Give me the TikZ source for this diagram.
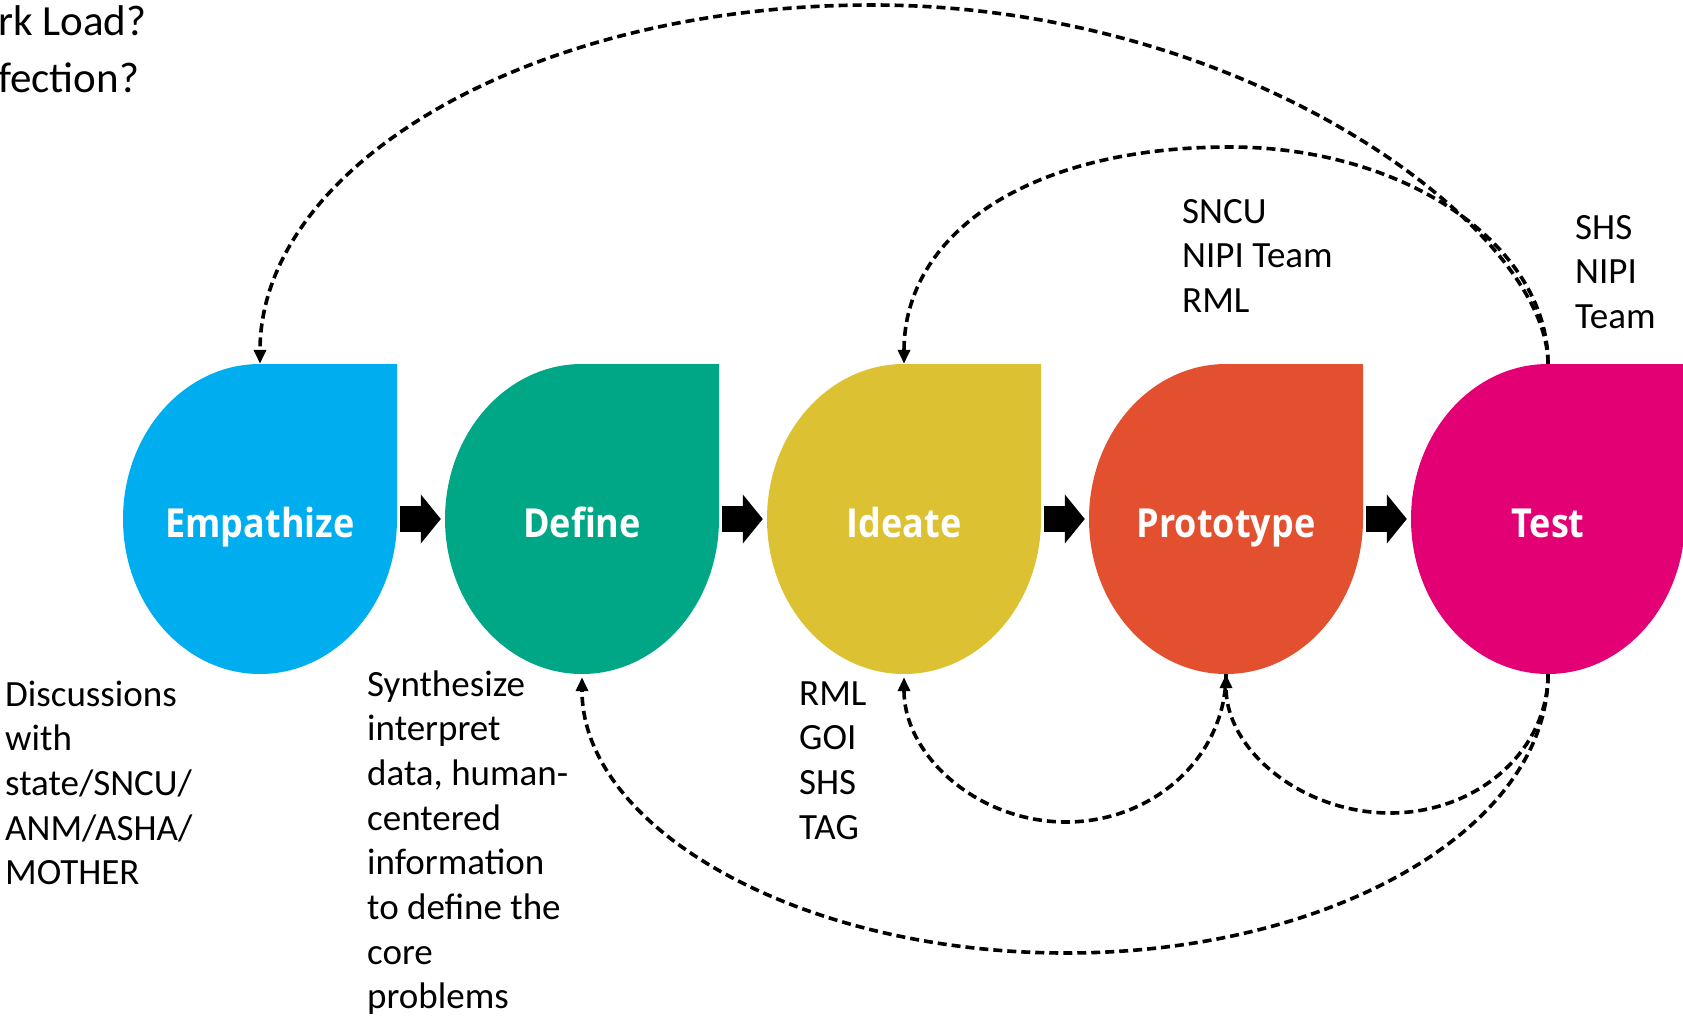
\documentclass[tikz,border=0pt]{standalone}
\usepackage{fontspec}
\setmainfont{Carlito}
\newfontfamily\stagefont{Open Sans}
\usetikzlibrary{arrows.meta}
\definecolor{cEmp}{RGB}{0,174,239}
\definecolor{cDef}{RGB}{0,167,135}
\definecolor{cIde}{RGB}{220,194,50}
\definecolor{cPro}{RGB}{227,80,47}
\definecolor{cTes}{RGB}{226,0,116}
\newcommand\blk[1]{\begin{tabular}[t]{@{}l@{}}#1\end{tabular}}
\newcommand\stg[1]{\scalebox{0.9}[1]{#1}}
\begin{document}
\begin{tikzpicture}[x=1pt,y=-1pt,
  stage/.style={minimum width=274pt, minimum height=310pt, inner sep=0pt,
    text height=36pt, text depth=0pt, text=white,
    font=\stagefont\bfseries\fontsize{40}{42}\selectfont},
  note/.style={anchor=base west, inner sep=0pt, font=\fontsize{37}{44.7}\selectfont},
  bignote/.style={anchor=base west, inner sep=0pt, font=\fontsize{43}{52}\selectfont},
  blockarrow/.style={line width=26pt, -{Triangle[length=20pt,width=48pt]},
    shorten <=3pt, shorten >=4pt},
  fb/.style={line width=3.6pt, dash pattern=on 9pt off 5pt,
    -{Triangle[length=14pt,width=12pt]}},
  drop/.pic={\fill[#1] (0,-155) -- (137,-155) -- (137,0)
      .. controls (137,85.6) and (75.7,155) .. (0,155)
      .. controls (-75.7,155) and (-137,85.6) .. (-137,0)
      .. controls (-137,-85.6) and (-75.7,-155) .. (0,-155) -- cycle;}]
\useasboundingbox (0,0) rectangle (1683,1019);
\clip (0,0) rectangle (1683,1019);

% teardrop shapes
\pic at (260,519) {drop=cEmp};
\pic at (582,519) {drop=cDef};
\pic at (904,519) {drop=cIde};
\pic at (1226,519) {drop=cPro};
\pic at (1548,519) {drop=cTes};

% stage nodes
\node[stage] (emp) at (260,519) {\stg{Empathize}};
\node[stage] (def) at (582,519) {\stg{Define}};
\node[stage] (ide) at (904,519) {\stg{Ideate}};
\node[stage] (pro) at (1226,519) {\stg{Prototype}};
\node[stage] (tes) at (1548,519) {\stg{Test}};

% block arrows
\draw[blockarrow] (emp.east) -- (def.west);
\draw[blockarrow] (def.east) -- (ide.west);
\draw[blockarrow] (ide.east) -- (pro.west);
\draw[blockarrow] (pro.east) -- (tes.west);

% feedback loops
\coordinate (a1) at (872,5);
\coordinate (a2) at (1230,147);
\coordinate (b1) at (1066,822);
\coordinate (b2) at (1390,813);
\coordinate (b3) at (1066,953);
\draw[fb] (tes.north) .. controls (1548,230) and (1250,5) .. (a1)
  .. controls (530,5) and (260,166) .. (emp.north);
\draw[fb] (tes.north) .. controls (1548,245) and (1405,147) .. (a2)
  .. controls (1028,147) and (904,234) .. (ide.north);
\draw[fb, shorten >=3pt] (pro.south) .. controls (1226,756) and (1154,822) .. (b1)
  .. controls (978,822) and (904,756) .. (ide.south);
\draw[fb] (tes.south) .. controls (1548,751) and (1477,813) .. (b2)
  .. controls (1303,813) and (1226,751) .. (pro.south);
\draw[fb, shorten >=3pt] (tes.south) .. controls (1548,828) and (1332,953) .. (b3)
  .. controls (799,953) and (582,828) .. (def.south);

% texts
\node[bignote] (q1) at (-2,36) {rk Load?};
\node[bignote] (q2) at (-2,93) {fection?};
\node[note] (n1) at (5,706) {\blk{Discussions\\with\\state/SNCU/\\ANM/ASHA/\\MOTHER}};
\node[note] (n2) at (367,696) {\blk{Synthesize\\interpret\\data, human-\\centered\\information\\to define the\\core\\problems}};
\node[note] (n3) at (799,705) {\blk{RML\\GOI\\SHS\\TAG}};
\node[note] (n4) at (1182,223) {\blk{SNCU\\NIPI Team\\RML}};
\node[note] (n5) at (1575,239) {\blk{SHS\\NIPI\\Team}};
\end{tikzpicture}
\end{document}
